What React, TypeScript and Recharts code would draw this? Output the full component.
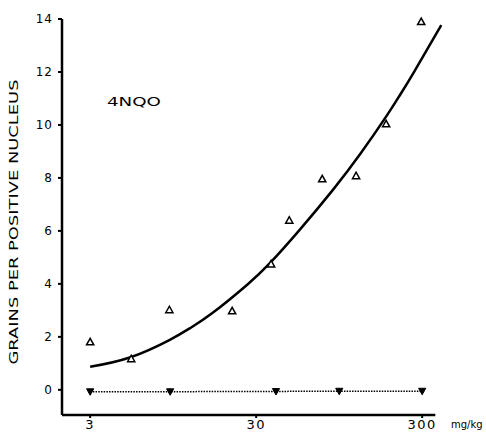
import React from 'react';
import { ComposedChart, Line, Scatter, XAxis, YAxis, ReferenceLine } from 'recharts';

// Treated (open up-triangles)
const treatedDose = [3, 5.3, 9.0, 21.5, 36.9, 47.5, 75, 120, 182, 296];
const treatedGrains = [1.81, 1.17, 3.02, 2.98, 4.75, 6.4, 7.96, 8.08, 10.04, 13.9];

// Control (filled down-triangles, dotted)
const controlDose = [3, 9.1, 39.5, 95, 300];
const controlGrains = [-0.07, -0.07, -0.06, -0.05, -0.05];

// Fitted curve
const fitDose = [3, 5.2, 9, 12, 16.5, 26.5, 36.4, 55, 87, 127, 184, 221, 265, 391];
const fitGrains = [0.87, 1.22, 1.88, 2.33, 2.92, 3.97, 4.79, 6.05, 7.55, 8.9, 10.36, 11.14, 11.95, 13.77];

const xTicks = [3, 30, 300];
const yTicks = [0, 2, 4, 6, 8, 10, 12, 14];
const xDomain = [2.03, 395];
const yDomain = [-0.95, 14];
const xAxisEnd = 360;

const treated = treatedDose.map((x, i) => ({ x, y: treatedGrains[i] }));
const control = controlDose.map((x, i) => ({ x, y: controlGrains[i] }));
const fit = fitDose.map((x, i) => ({ x, y: fitGrains[i] }));

const FONT = '"DejaVu Sans", sans-serif';

const UpTriangle = (props: any) => {
  const { cx, cy } = props;
  if (cx == null || cy == null) return null;
  const s = 3.6;
  return (
    <polygon
      points={`${cx},${cy - s} ${cx - s},${cy + s * 0.8} ${cx + s},${cy + s * 0.8}`}
      fill="#fff"
      stroke="#000"
      strokeWidth={1.5}
    />
  );
};

const DownTriangle = (props: any) => {
  const { cx, cy, index } = props;
  if (cx == null || cy == null) return null;
  const s = 3.6;
  return (
    <polygon
      key={`d-${index}`}
      points={`${cx - s},${cy - s * 0.8} ${cx + s},${cy - s * 0.8} ${cx},${cy + s}`}
      fill="#000"
      stroke="#000"
      strokeWidth={1}
    />
  );
};

export default function App() {
  return (
    <div style={{ position: 'absolute', left: 0, top: 0, width: 486, height: 434, background: '#fff' }}>
      <ComposedChart
        width={486}
        height={434}
        margin={{ top: 19, right: 44, bottom: 0, left: 10 }}
      >
        <XAxis
          dataKey="x"
          type="number"
          scale="log"
          domain={xDomain}
          ticks={xTicks}
          axisLine={false}
          tickSize={3}
          tickMargin={2}
          height={19}
          tickLine={{ stroke: '#000', strokeWidth: 2 }}
          tick={{ fill: '#000', fontSize: 13, fontFamily: FONT, letterSpacing: 1.5 }}
          interval={0}
        />
        <YAxis
          type="number"
          domain={yDomain}
          ticks={yTicks}
          width={52}
          tickSize={4}
          tickMargin={5}
          axisLine={{ stroke: '#000', strokeWidth: 2.5 }}
          tickLine={{ stroke: '#000', strokeWidth: 2 }}
          tick={{ fill: '#000', fontSize: 12, fontFamily: FONT, letterSpacing: 1 }}
          interval={0}
        />
        <ReferenceLine
          segment={[{ x: xDomain[0], y: yDomain[0] }, { x: xAxisEnd, y: yDomain[0] }]}
          stroke="#000"
          strokeWidth={2.5}
        />
        <Line
          data={fit}
          dataKey="y"
          type="natural"
          stroke="#000"
          strokeWidth={2.5}
          dot={false}
          activeDot={false}
          isAnimationActive={false}
        />
        <Line
          data={control}
          dataKey="y"
          type="linear"
          stroke="#000"
          strokeWidth={1.5}
          strokeDasharray="1.5 1.2"
          dot={DownTriangle}
          activeDot={false}
          isAnimationActive={false}
        />
        <Scatter data={treated} dataKey="y" shape={UpTriangle} isAnimationActive={false} />
      </ComposedChart>
      <svg
        width={486}
        height={434}
        style={{ position: 'absolute', left: 0, top: 0, pointerEvents: 'none' }}
      >
        <text
          transform="translate(18,222) rotate(-90)"
          textAnchor="middle"
          fontFamily={FONT}
          fontSize={12.5}
          textLength={285}
          lengthAdjust="spacingAndGlyphs"
          fill="#000"
        >
          GRAINS PER POSITIVE NUCLEUS
        </text>
        <text x={107} y={106} fontFamily={FONT} fontSize={12} textLength={54} lengthAdjust="spacingAndGlyphs" fill="#000">
          4NQO
        </text>
        <text x={451} y={428} fontFamily={FONT} fontSize={10} fill="#000">
          mg/kg
        </text>
      </svg>
    </div>
  );
}
